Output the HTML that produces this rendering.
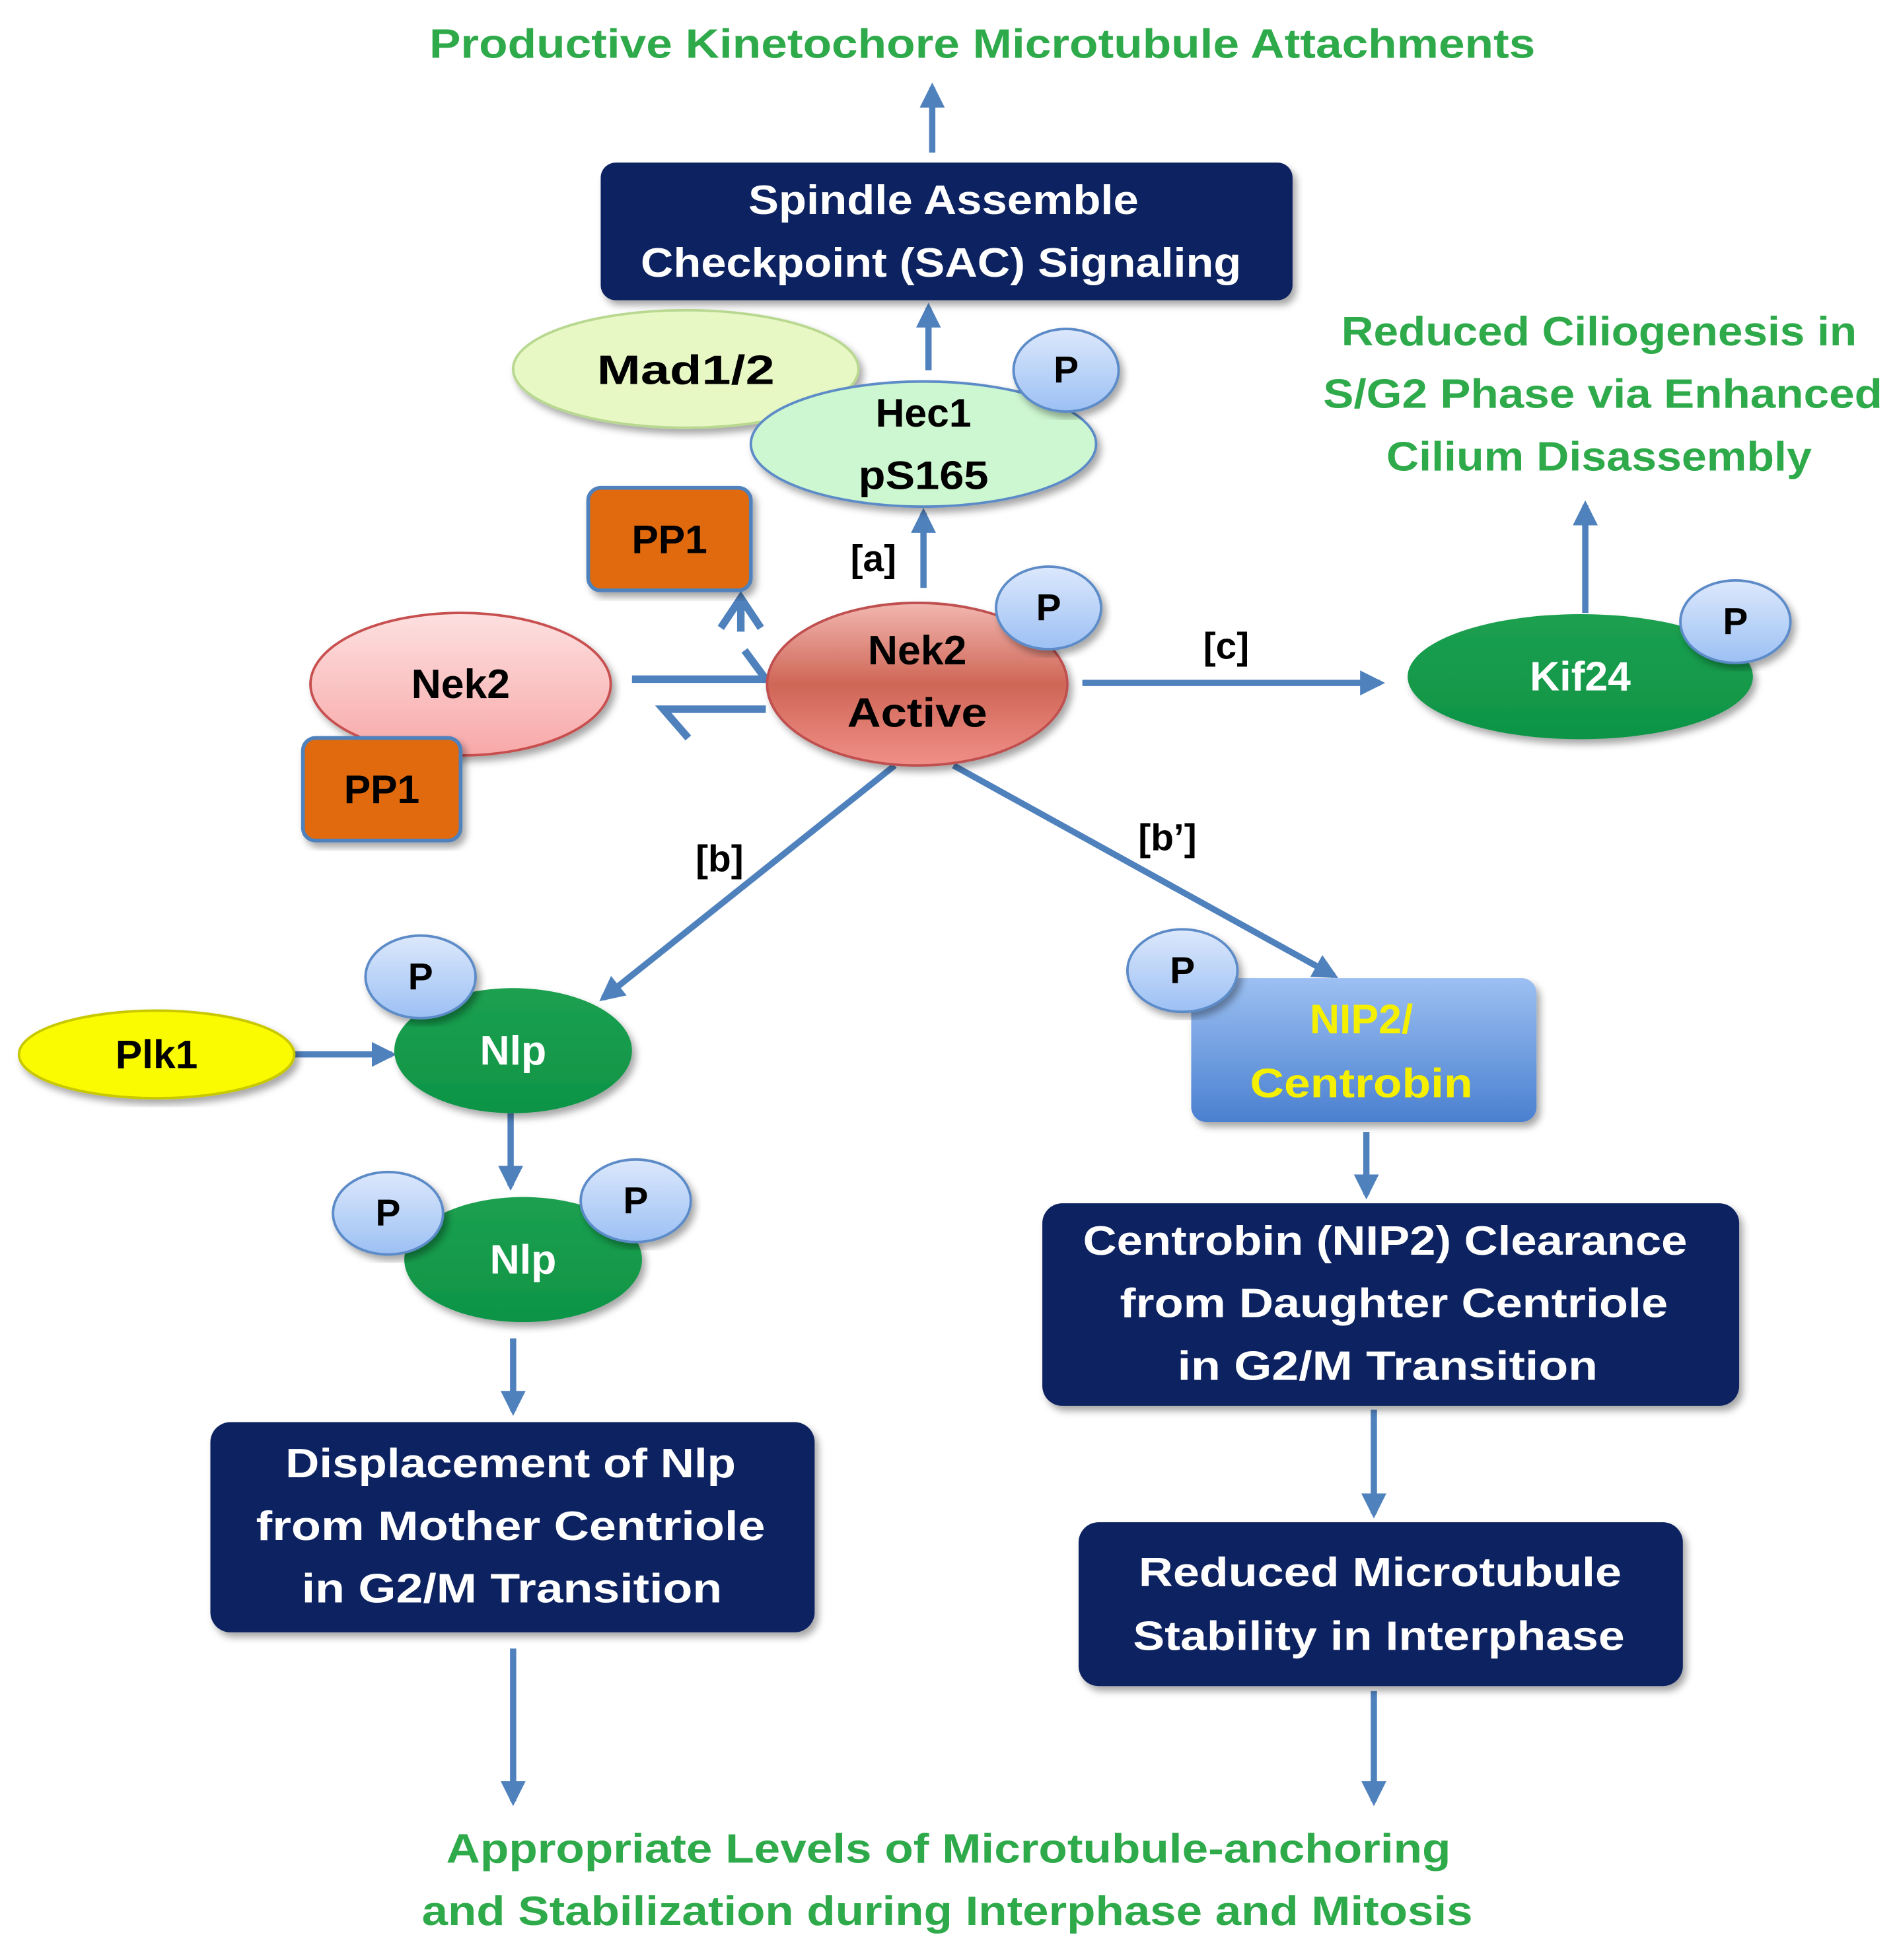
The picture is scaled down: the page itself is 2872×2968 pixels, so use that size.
<!DOCTYPE html>
<html><head><meta charset="utf-8"><style>
html,body{margin:0;padding:0;background:#fff}
svg{display:block}
text{font-family:"Liberation Sans",sans-serif;font-weight:bold;dominant-baseline:central;text-anchor:middle}
</style></head><body>
<svg width="2872" height="2968" viewBox="0 0 1516 1567" xmlns="http://www.w3.org/2000/svg">
<defs>
<marker id="ah" viewBox="0 0 10 10" refX="8" refY="5" markerWidth="4" markerHeight="4" orient="auto-start-reverse"><path d="M0,0 L10,5 L0,10 z" fill="#4f81bd"/></marker>
<linearGradient id="nek" x1="0" y1="0" x2="0" y2="1"><stop offset="0" stop-color="#f2b7b0"/><stop offset="0.5" stop-color="#cf6656"/><stop offset="1" stop-color="#f08f88"/></linearGradient>
<linearGradient id="nek1" x1="0" y1="0" x2="0" y2="1"><stop offset="0" stop-color="#fde0e0"/><stop offset="1" stop-color="#f8a8a8"/></linearGradient>
<linearGradient id="pg" x1="0" y1="0" x2="0" y2="1"><stop offset="0" stop-color="#dce8fc"/><stop offset="1" stop-color="#9cc0f4"/></linearGradient>
<linearGradient id="nip" x1="0" y1="0" x2="0" y2="1"><stop offset="0" stop-color="#9cc0f2"/><stop offset="1" stop-color="#4a80d0"/></linearGradient>
<linearGradient id="grn" x1="0" y1="0" x2="0" y2="1"><stop offset="0" stop-color="#1ca050"/><stop offset="1" stop-color="#0e9446"/></linearGradient>
<filter id="sh"><feDropShadow dx="3" dy="4" stdDeviation="3" flood-opacity="0.35"/></filter>
</defs>
<g stroke="#4f81bd" stroke-width="5" fill="none" marker-end="url(#ah)">
<line x1="745" y1="122" x2="745" y2="70"/>
<line x1="742" y1="296" x2="742" y2="246"/>
<line x1="738" y1="470" x2="738" y2="410"/>
<line x1="865" y1="546" x2="1103" y2="546"/>
<line x1="1267" y1="490" x2="1267" y2="404"/>
<line x1="715" y1="612" x2="482" y2="798"/>
<line x1="762" y1="612" x2="1066" y2="780"/>
<line x1="235" y1="843" x2="313" y2="843"/>
<line x1="408" y1="890" x2="408" y2="948"/>
<line x1="410" y1="1070" x2="410" y2="1128"/>
<line x1="410" y1="1318" x2="410" y2="1440"/>
<line x1="1092" y1="905" x2="1092" y2="955"/>
<line x1="1098" y1="1127" x2="1098" y2="1210"/>
<line x1="1098" y1="1352" x2="1098" y2="1440"/>
</g>
<g stroke="#4f81bd" stroke-width="6" fill="none">
<path d="M505,543 H612 L595,520"/>
<path d="M612,567 H530 L550,590"/>
<path d="M592,505 V480 M576,502 L592,478 L608,502"/>
</g>
<g font-size="33" lengthAdjust="spacingAndGlyphs">
<text x="785" y="35" fill="#2eaa4a" textLength="884" lengthAdjust="spacingAndGlyphs">Productive Kinetochore Microtubule Attachments</text>
<rect x="480" y="130" width="553" height="110" rx="12" fill="#0c2260" filter="url(#sh)"/>
<text x="754" y="160" fill="#fff" textLength="312" lengthAdjust="spacingAndGlyphs">Spindle Assemble</text>
<text x="752" y="210" fill="#fff" textLength="480" lengthAdjust="spacingAndGlyphs">Checkpoint (SAC) Signaling</text>
<ellipse cx="548" cy="295" rx="138" ry="47" fill="#e8f8c4" stroke="#b8d890" stroke-width="2" filter="url(#sh)"/>
<text x="548" y="296" textLength="142" lengthAdjust="spacingAndGlyphs">Mad1/2</text>
<ellipse cx="738" cy="355" rx="138" ry="50" fill="#cdf7d0" stroke="#5b8bc8" stroke-width="2" filter="url(#sh)"/>
<text x="738" y="330" font-size="32">Hec1</text>
<text x="738" y="380" font-size="32" textLength="104" lengthAdjust="spacingAndGlyphs">pS165</text>
<ellipse cx="852" cy="296" rx="42" ry="33" fill="url(#pg)" stroke="#5b8bc8" stroke-width="2" filter="url(#sh)"/>
<text x="852" y="296" font-size="30">P</text>
<rect x="470" y="390" width="130" height="82" rx="10" fill="#e06a0c" stroke="#4f81bd" stroke-width="3" filter="url(#sh)"/>
<text x="535" y="431" font-size="32">PP1</text>
<text x="698" y="447" font-size="30">[a]</text>
<ellipse cx="368" cy="547" rx="120" ry="57" fill="url(#nek1)" stroke="#c85050" stroke-width="2" filter="url(#sh)"/>
<text x="368" y="547">Nek2</text>
<rect x="242" y="590" width="126" height="82" rx="10" fill="#e06a0c" stroke="#4f81bd" stroke-width="3" filter="url(#sh)"/>
<text x="305" y="631" font-size="32">PP1</text>
<ellipse cx="733" cy="547" rx="120" ry="65" fill="url(#nek)" stroke="#c05050" stroke-width="2" filter="url(#sh)"/>
<text x="733" y="520">Nek2</text>
<text x="733" y="570" textLength="112" lengthAdjust="spacingAndGlyphs">Active</text>
<ellipse cx="838" cy="486" rx="42" ry="33" fill="url(#pg)" stroke="#5b8bc8" stroke-width="2" filter="url(#sh)"/>
<text x="838" y="486" font-size="30">P</text>
<text x="980" y="517" font-size="30">[c]</text>
<ellipse cx="1263" cy="541" rx="138" ry="50" fill="url(#grn)" filter="url(#sh)"/>
<text x="1263" y="541" fill="#fff">Kif24</text>
<ellipse cx="1387" cy="497" rx="44" ry="33" fill="url(#pg)" stroke="#5b8bc8" stroke-width="2" filter="url(#sh)"/>
<text x="1387" y="497" font-size="30">P</text>
<text x="1278" y="265" fill="#2eaa4a" textLength="412" lengthAdjust="spacingAndGlyphs">Reduced Ciliogenesis in</text>
<text x="1281" y="315" fill="#2eaa4a" textLength="447" lengthAdjust="spacingAndGlyphs">S/G2 Phase via Enhanced</text>
<text x="1278" y="365" fill="#2eaa4a" textLength="340" lengthAdjust="spacingAndGlyphs">Cilium Disassembly</text>
<text x="575" y="687" font-size="30">[b]</text>
<text x="933" y="670" font-size="30">[b’]</text>
<ellipse cx="125" cy="843" rx="110" ry="35" fill="#fafa00" stroke="#c8c800" stroke-width="2" filter="url(#sh)"/>
<text x="125" y="843" font-size="32">Plk1</text>
<ellipse cx="410" cy="840" rx="95" ry="50" fill="url(#grn)" filter="url(#sh)"/>
<text x="410" y="840" fill="#fff">Nlp</text>
<ellipse cx="336" cy="781" rx="44" ry="33" fill="url(#pg)" stroke="#5b8bc8" stroke-width="2" filter="url(#sh)"/>
<text x="336" y="781" font-size="30">P</text>
<ellipse cx="418" cy="1007" rx="95" ry="50" fill="url(#grn)" filter="url(#sh)"/>
<text x="418" y="1007" fill="#fff">Nlp</text>
<ellipse cx="310" cy="970" rx="44" ry="33" fill="url(#pg)" stroke="#5b8bc8" stroke-width="2" filter="url(#sh)"/>
<text x="310" y="970" font-size="30">P</text>
<ellipse cx="508" cy="960" rx="44" ry="33" fill="url(#pg)" stroke="#5b8bc8" stroke-width="2" filter="url(#sh)"/>
<text x="508" y="960" font-size="30">P</text>
<rect x="168" y="1137" width="483" height="168" rx="16" fill="#0c2260" filter="url(#sh)"/>
<text x="408" y="1170" fill="#fff" textLength="360" lengthAdjust="spacingAndGlyphs">Displacement of Nlp</text>
<text x="408" y="1220" fill="#fff" textLength="407" lengthAdjust="spacingAndGlyphs">from Mother Centriole</text>
<text x="409" y="1270" fill="#fff" textLength="336" lengthAdjust="spacingAndGlyphs">in G2/M Transition</text>
<rect x="952" y="782" width="276" height="115" rx="12" fill="url(#nip)" filter="url(#sh)"/>
<text x="1088" y="815" fill="#f5f000">NIP2/</text>
<text x="1088" y="866" fill="#f5f000" textLength="178" lengthAdjust="spacingAndGlyphs">Centrobin</text>
<ellipse cx="945" cy="776" rx="44" ry="33" fill="url(#pg)" stroke="#5b8bc8" stroke-width="2" filter="url(#sh)"/>
<text x="945" y="776" font-size="30">P</text>
<rect x="833" y="962" width="557" height="162" rx="16" fill="#0c2260" filter="url(#sh)"/>
<text x="1107" y="992" fill="#fff" textLength="483" lengthAdjust="spacingAndGlyphs">Centrobin (NIP2) Clearance</text>
<text x="1114" y="1042" fill="#fff" textLength="438" lengthAdjust="spacingAndGlyphs">from Daughter Centriole</text>
<text x="1109" y="1092" fill="#fff" textLength="336" lengthAdjust="spacingAndGlyphs">in G2/M Transition</text>
<rect x="862" y="1217" width="483" height="131" rx="16" fill="#0c2260" filter="url(#sh)"/>
<text x="1103" y="1257" fill="#fff" textLength="386" lengthAdjust="spacingAndGlyphs">Reduced Microtubule</text>
<text x="1102" y="1308" fill="#fff" textLength="393" lengthAdjust="spacingAndGlyphs">Stability in Interphase</text>
<text x="758" y="1478" fill="#2eaa4a" textLength="803" lengthAdjust="spacingAndGlyphs">Appropriate Levels of Microtubule-anchoring</text>
<text x="757" y="1528" fill="#2eaa4a" textLength="840" lengthAdjust="spacingAndGlyphs">and Stabilization during Interphase and Mitosis</text>
</g>
</svg>
</body></html>
